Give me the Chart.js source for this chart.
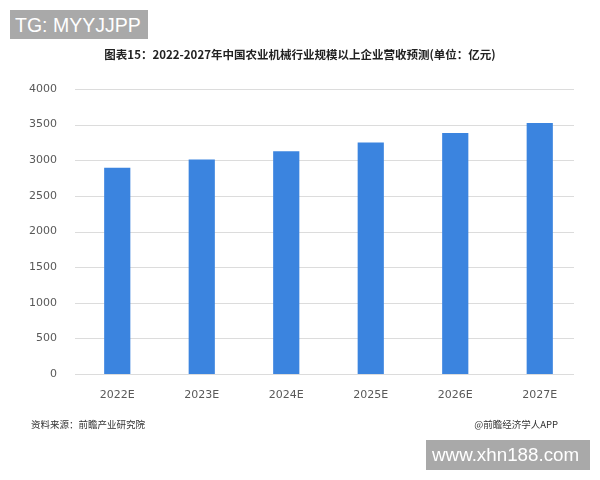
<!DOCTYPE html>
<html>
<head>
<meta charset="utf-8">
<script src="https://cdn.jsdelivr.net/npm/chart.js@4/dist/chart.umd.min.js"></script>
<style>
body{margin:0;background:#fff;}
#wrap{position:relative;width:600px;height:480px;font-family:"Noto Sans CJK SC","Noto Sans",sans-serif;}
canvas{position:absolute;left:0;top:0;}
.tag{position:absolute;background:#a9a9a9;color:#fff;font-family:"Liberation Sans",Arial,sans-serif;white-space:nowrap;overflow:hidden;box-sizing:border-box;}
#tg{left:10px;top:10px;width:138px;height:29px;font-size:19.5px;line-height:30px;padding-left:5px;}
#site{left:426px;top:440px;width:164px;height:30px;font-size:18.8px;line-height:30px;padding-left:6px;}
#title{position:absolute;left:0;width:600px;top:46px;text-align:center;font-size:11.5px;font-weight:bold;color:#222;}
.foot{position:absolute;top:417px;font-size:9.5px;color:#333;}
#src{left:31px;}
#app{right:42px;}
</style>
</head>
<body>
<div id="wrap">
<canvas id="chart" width="600" height="480"></canvas>
<div class="tag" id="tg">TG: MYYJJPP</div>
<div id="title">图表15：2022-2027年中国农业机械行业规模以上企业营收预测(单位：亿元)</div>
<div class="foot" id="src">资料来源：前瞻产业研究院</div>
<div class="foot" id="app">@前瞻经济学人APP</div>
<div class="tag" id="site">www.xhn188.com</div>
</div>
<script>
// 数据
var years = ['2022E','2023E','2024E','2025E','2026E','2027E'];
var revenue = [2893, 3011, 3127, 3249, 3384, 3524];
var yTicks = [0, 500, 1000, 1500, 2000, 2500, 3000, 3500, 4000];

// 网格线画在柱子下面，右端比绘图区短一点
var gridPlugin = {
    id: 'shortGrid',
    beforeDatasetsDraw: function(chart){
        var c = chart.ctx, a = chart.chartArea, y = chart.scales.y;
        c.save();
        c.strokeStyle = '#dcdcdc';
        c.lineWidth = 1;
        yTicks.forEach(function(v){
            var py = Math.round(y.getPixelForValue(v)) + 0.5;
            c.beginPath();
            c.moveTo(a.left, py);
            c.lineTo(a.right - 8, py);
            c.stroke();
        });
        c.restore();
    }
};

var ctx = document.getElementById('chart').getContext('2d');
var chart = new Chart(ctx, {
    type: 'bar',
    data: {
        labels: years,
        datasets: [{
            label: '营收',
            data: revenue,
            backgroundColor: '#3b84df',
            categoryPercentage: 1,
            barPercentage: 0.31
        }]
    },
    options: {
        responsive: false,
        animation: false,
        layout: { padding: { top: 89, right: 18, left: 0, bottom: 0 } },
        plugins: { legend: { display: false }, tooltip: { enabled: false } },
        scales: {
            x: {
                grid: { display: false },
                border: { display: false },
                ticks: { color: '#595959', font: { size: 11, family: 'DejaVu Sans' }, padding: 7 },
                afterFit: function(s){ s.height = 106; }
            },
            y: {
                min: 0, max: 4000,
                afterBuildTicks: function(s){ s.ticks = yTicks.map(v => ({ value: v })); },
                grid: { display: false },
                border: { display: false },
                ticks: { color: '#595959', font: { size: 11, family: 'DejaVu Sans' }, padding: 10,
                    callback: function(v){ return String(v); } },
                afterFit: function(s){ s.width = 75; }
            }
        }
    },
    plugins: [gridPlugin]
});
</script>
</body>
</html>
